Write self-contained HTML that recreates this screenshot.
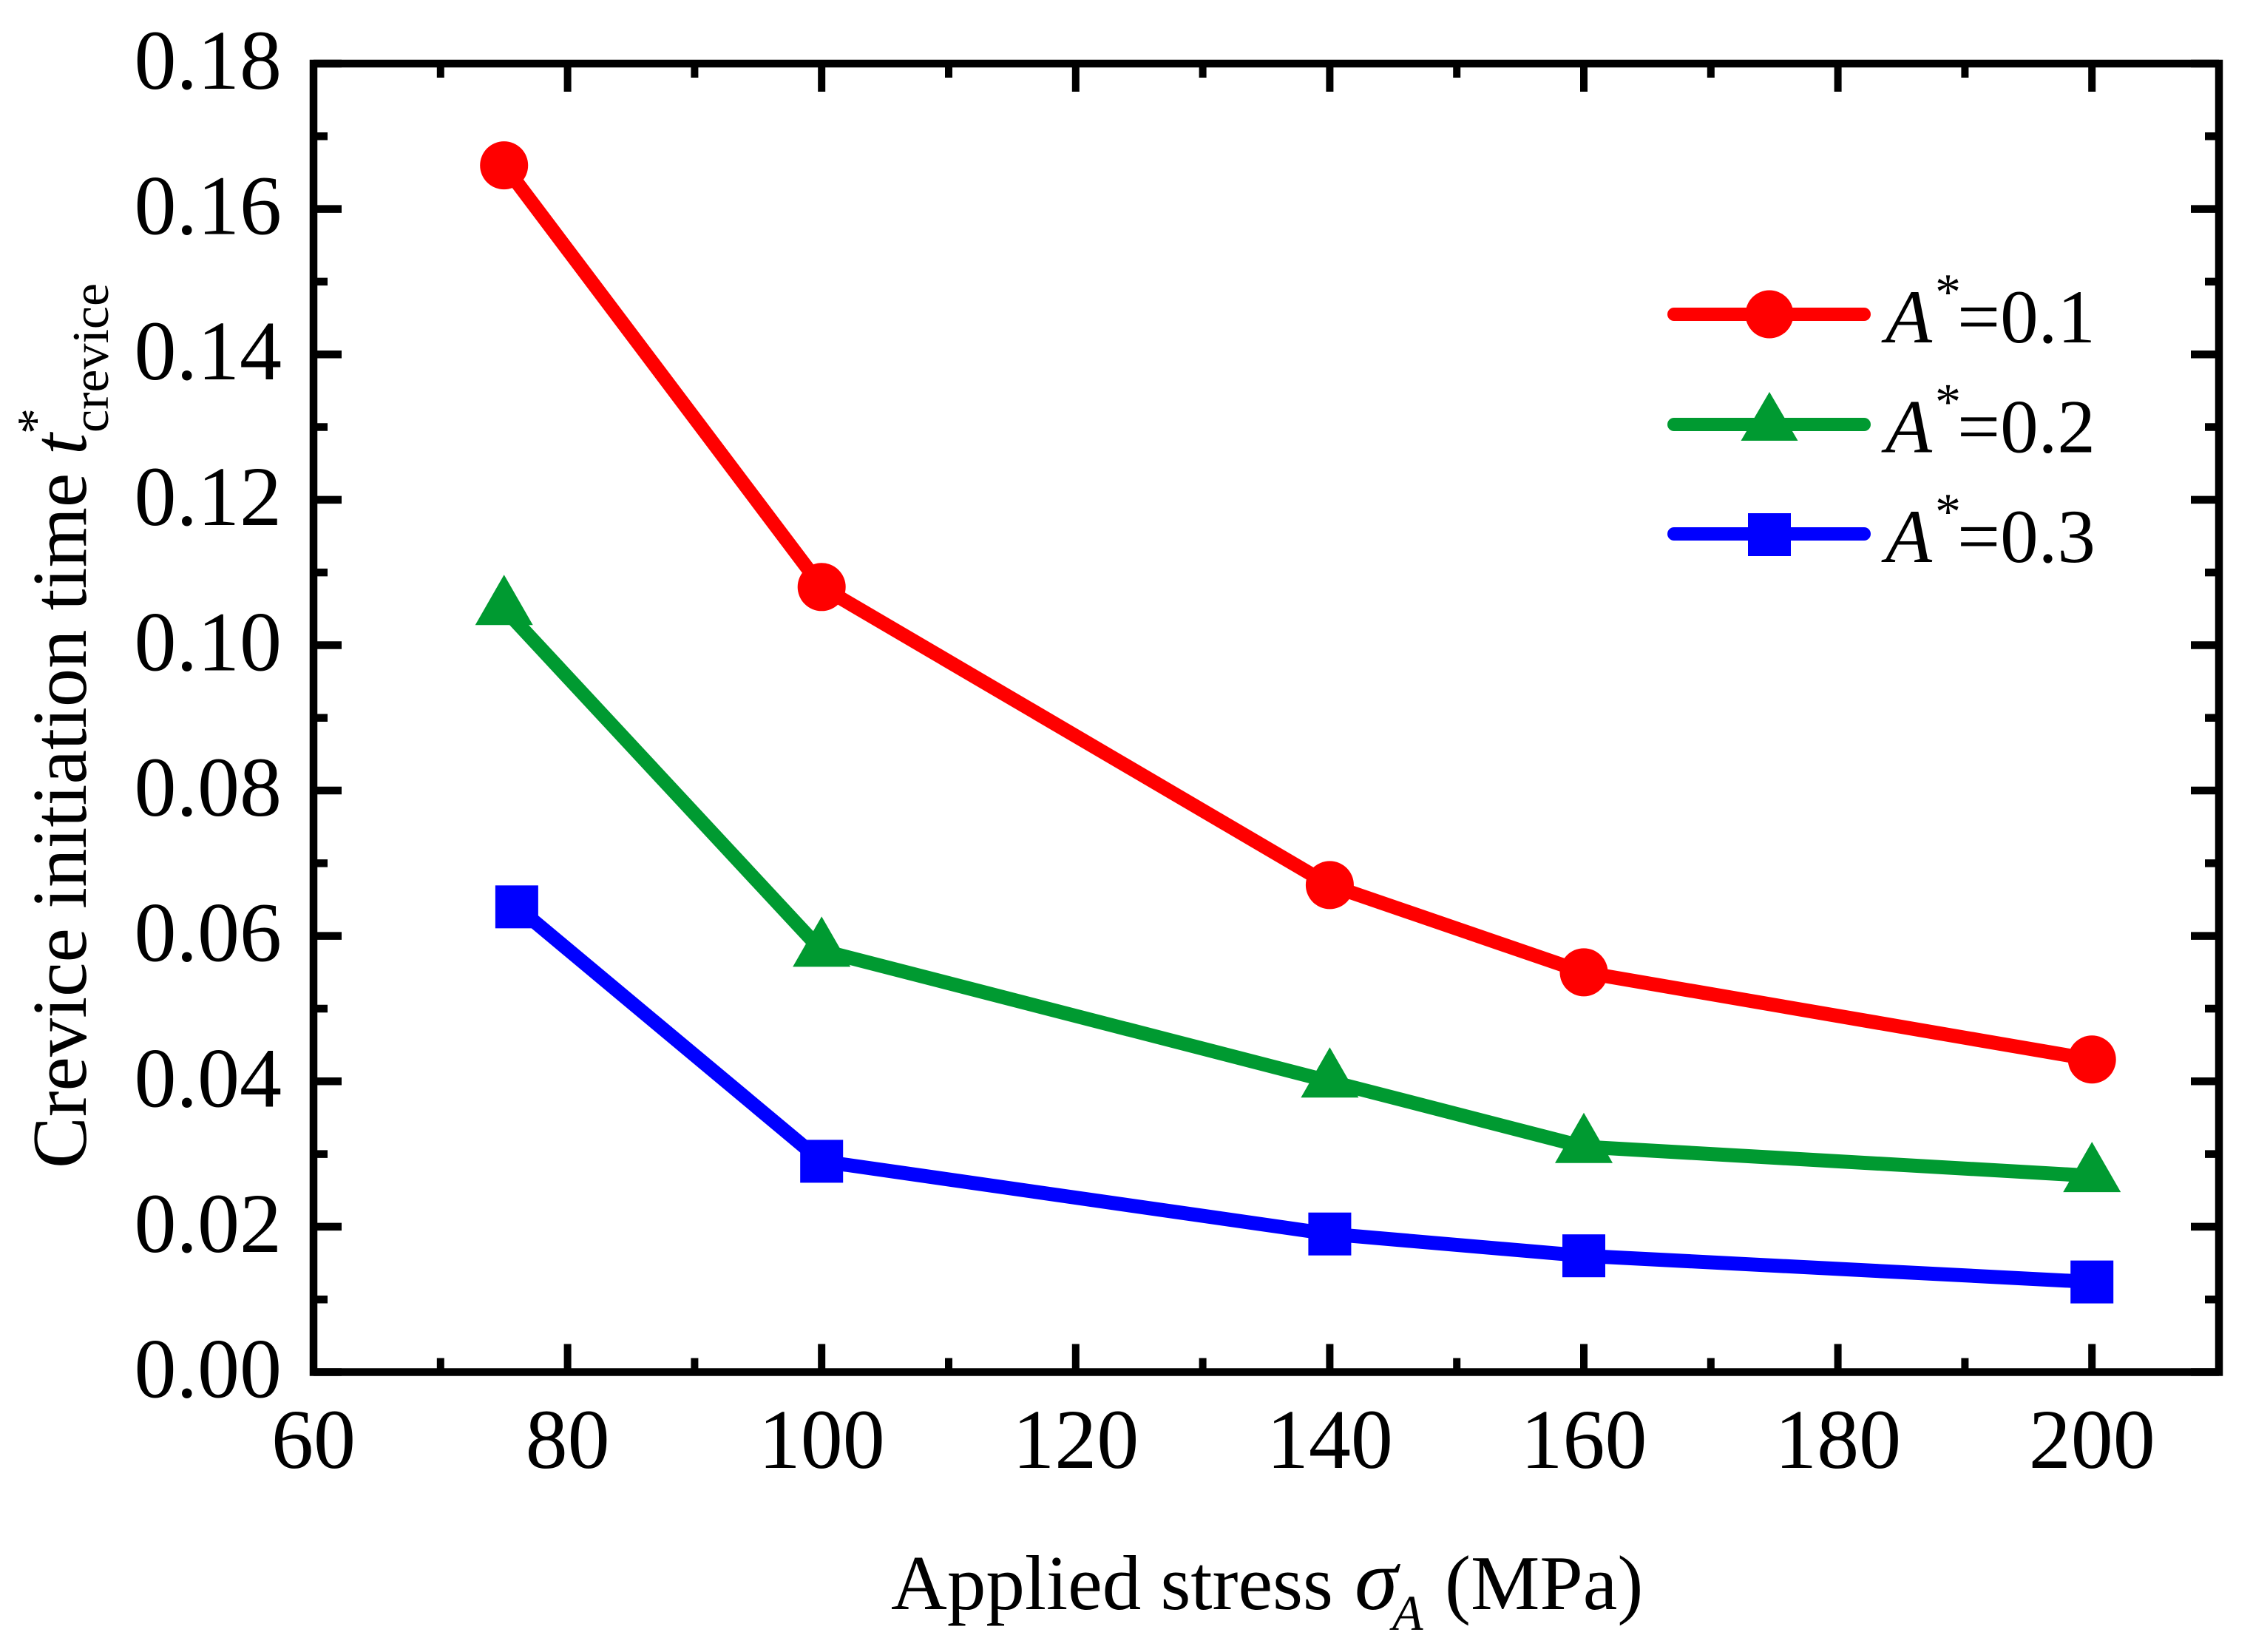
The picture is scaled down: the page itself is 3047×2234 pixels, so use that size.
<!DOCTYPE html>
<html lang="en">
<head>
<meta charset="utf-8">
<title>Crevice initiation time vs applied stress</title>
<style>
html,body{margin:0;padding:0;background:#fff;}
svg{display:block;font-family:"Liberation Serif","DejaVu Serif",serif;}
</style>
</head>
<body>
<svg id="chart" xmlns="http://www.w3.org/2000/svg" width="3047" height="2234" viewBox="0 0 3047 2234">
  <rect x="0" y="0" width="3047" height="2234" fill="#fff"/>
  <g id="ticks"></g>
  <g id="tick-labels"></g>
  <g id="series"></g>
  <rect x="424" y="86" width="2577" height="1769.5" fill="none" stroke="#000" stroke-width="10.5"/>

  <text font-size="105" fill="#000"><tspan x="1205" y="2176">Applied stress</tspan><tspan x="1832" y="2176" font-size="118" font-style="italic">σ</tspan><tspan x="1883" y="2204" font-size="68" font-style="italic">A</tspan><tspan x="1954" y="2176">(MPa)</tspan></text>

  <text transform="translate(116,1580) rotate(-90)" font-size="104.5" fill="#000"><tspan x="0" y="0">Crevice initiation time</tspan><tspan x="965" y="0" font-style="italic">t</tspan><tspan x="993" y="-45" font-size="70">*</tspan><tspan x="995" y="30" font-size="70">crevice</tspan></text>

  <g>
    <g>
      <line x1="2264" y1="425" x2="2521" y2="425" stroke="#ff0000" stroke-width="18" stroke-linecap="round"/>
      <circle cx="2393" cy="425" r="32.5" fill="#ff0000"/>
      <text font-size="103" fill="#000"><tspan x="2550" y="463" font-style="italic">A</tspan><tspan x="2617" y="418" font-size="70">*</tspan><tspan x="2647" y="463">=0.1</tspan></text>
    </g>
    <g>
      <line x1="2264" y1="574" x2="2521" y2="574" stroke="#009a31" stroke-width="18" stroke-linecap="round"/>
      <polygon points="2393,530 2431.5,596 2354.5,596" fill="#009a31"/>
      <text font-size="103" fill="#000"><tspan x="2550" y="611.5" font-style="italic">A</tspan><tspan x="2617" y="566.5" font-size="70">*</tspan><tspan x="2647" y="611.5">=0.2</tspan></text>
    </g>
    <g>
      <line x1="2264" y1="722" x2="2521" y2="722" stroke="#0000ff" stroke-width="18" stroke-linecap="round"/>
      <rect x="2364" y="694" width="58" height="58" fill="#0000ff"/>
      <text font-size="103" fill="#000"><tspan x="2550" y="760" font-style="italic">A</tspan><tspan x="2617" y="715" font-size="70">*</tspan><tspan x="2647" y="760">=0.3</tspan></text>
    </g>
  </g>
</svg>
<script>
const xMajorTicks = [60, 80, 100, 120, 140, 160, 180, 200];
const xMinorTicks = [70, 90, 110, 130, 150, 170, 190];
const yMajorTicks = [0, 0.02, 0.04, 0.06, 0.08, 0.10, 0.12, 0.14, 0.16, 0.18];
const yMinorTicks = [0.01, 0.03, 0.05, 0.07, 0.09, 0.11, 0.13, 0.15, 0.17];
const stressRed = [75, 100, 140, 160, 200];
const stressGreen = [75, 100, 140, 160, 200];
const stressBlue = [76, 100, 140, 160, 200];
const timeRed = [0.166, 0.108, 0.067, 0.055, 0.043];
const timeGreen = [0.105, 0.058, 0.040, 0.031, 0.027];
const timeBlue = [0.064, 0.029, 0.019, 0.016, 0.0124];

const NS = 'http://www.w3.org/2000/svg';
const X0 = 424, X1 = 3001, XMIN = 60, XMAX = 210;
const Y0 = 1855.5, Y1 = 86, YMIN = 0, YMAX = 0.18;
function xScale(v) { return X0 + (v - XMIN) / (XMAX - XMIN) * (X1 - X0); }
function yScale(v) { return Y0 - (v - YMIN) / (YMAX - YMIN) * (Y0 - Y1); }

function make(tag, attrs, parent) {
  const el = document.createElementNS(NS, tag);
  for (const k in attrs) el.setAttribute(k, attrs[k]);
  parent.appendChild(el);
  return el;
}

const tickGroup = document.getElementById('ticks');
const labelGroup = document.getElementById('tick-labels');
const seriesGroup = document.getElementById('series');

function xTick(v, len, kind) {
  const x = xScale(v);
  const bottom = make('line', {x1: x, x2: x, y1: Y0, y2: Y0 - len, stroke: '#000', 'stroke-width': 10}, tickGroup);
  
  
  const top = make('line', {x1: x, x2: x, y1: Y1, y2: Y1 + len, stroke: '#000', 'stroke-width': 10}, tickGroup);
  
  
}
function yTick(v, len, kind) {
  const y = yScale(v);
  const left = make('line', {x1: X0, x2: X0 + len, y1: y, y2: y, stroke: '#000', 'stroke-width': 10.5}, tickGroup);
  
  
  const right = make('line', {x1: X1, x2: X1 - len, y1: y, y2: y, stroke: '#000', 'stroke-width': 10.5}, tickGroup);
  
  
}
xMajorTicks.forEach(function (v) { xTick(v, 38, 'major'); });
xMinorTicks.forEach(function (v) { xTick(v, 19, 'minor'); });
yMajorTicks.forEach(function (v) { yTick(v, 38, 'major'); });
yMinorTicks.forEach(function (v) { yTick(v, 19, 'minor'); });

xMajorTicks.forEach(function (v) {
  const t = make('text', {x: xScale(v), y: 1985, 'font-size': 114, 'text-anchor': 'middle', fill: '#000'}, labelGroup);
  t.textContent = String(v);
  
  
});
yMajorTicks.forEach(function (v) {
  const t = make('text', {x: 381, y: yScale(v) + 34, 'font-size': 114, 'text-anchor': 'end', fill: '#000'}, labelGroup);
  t.textContent = v.toFixed(2);
  
  
});

function drawLine(xs, ys, color, name) {
  const pts = xs.map(function (x, i) { return xScale(x) + ',' + yScale(ys[i]); }).join(' ');
  const line = make('polyline', {points: pts, fill: 'none', stroke: color, 'stroke-width': 19, 'stroke-linejoin': 'round', 'stroke-linecap': 'round'}, seriesGroup);
  
  
}

drawLine(stressRed, timeRed, '#ff0000', 'series-line-a-0-1');
drawLine(stressGreen, timeGreen, '#009a31', 'series-line-a-0-2');
drawLine(stressBlue, timeBlue, '#0000ff', 'series-line-a-0-3');

stressRed.forEach(function (x, i) {
  const m = make('circle', {cx: xScale(x), cy: yScale(timeRed[i]), r: 32.5, fill: '#ff0000'}, seriesGroup);
  
  
});
stressGreen.forEach(function (x, i) {
  const px = xScale(x), py = yScale(timeGreen[i]);
  const m = make('polygon', {points: px + ',' + (py - 46) + ' ' + (px + 39) + ',' + (py + 22) + ' ' + (px - 39) + ',' + (py + 22), fill: '#009a31'}, seriesGroup);
  
  
});
stressBlue.forEach(function (x, i) {
  const m = make('rect', {x: xScale(x) - 29, y: yScale(timeBlue[i]) - 29, width: 58, height: 58, fill: '#0000ff'}, seriesGroup);
  
  
});
</script>
</body>
</html>
